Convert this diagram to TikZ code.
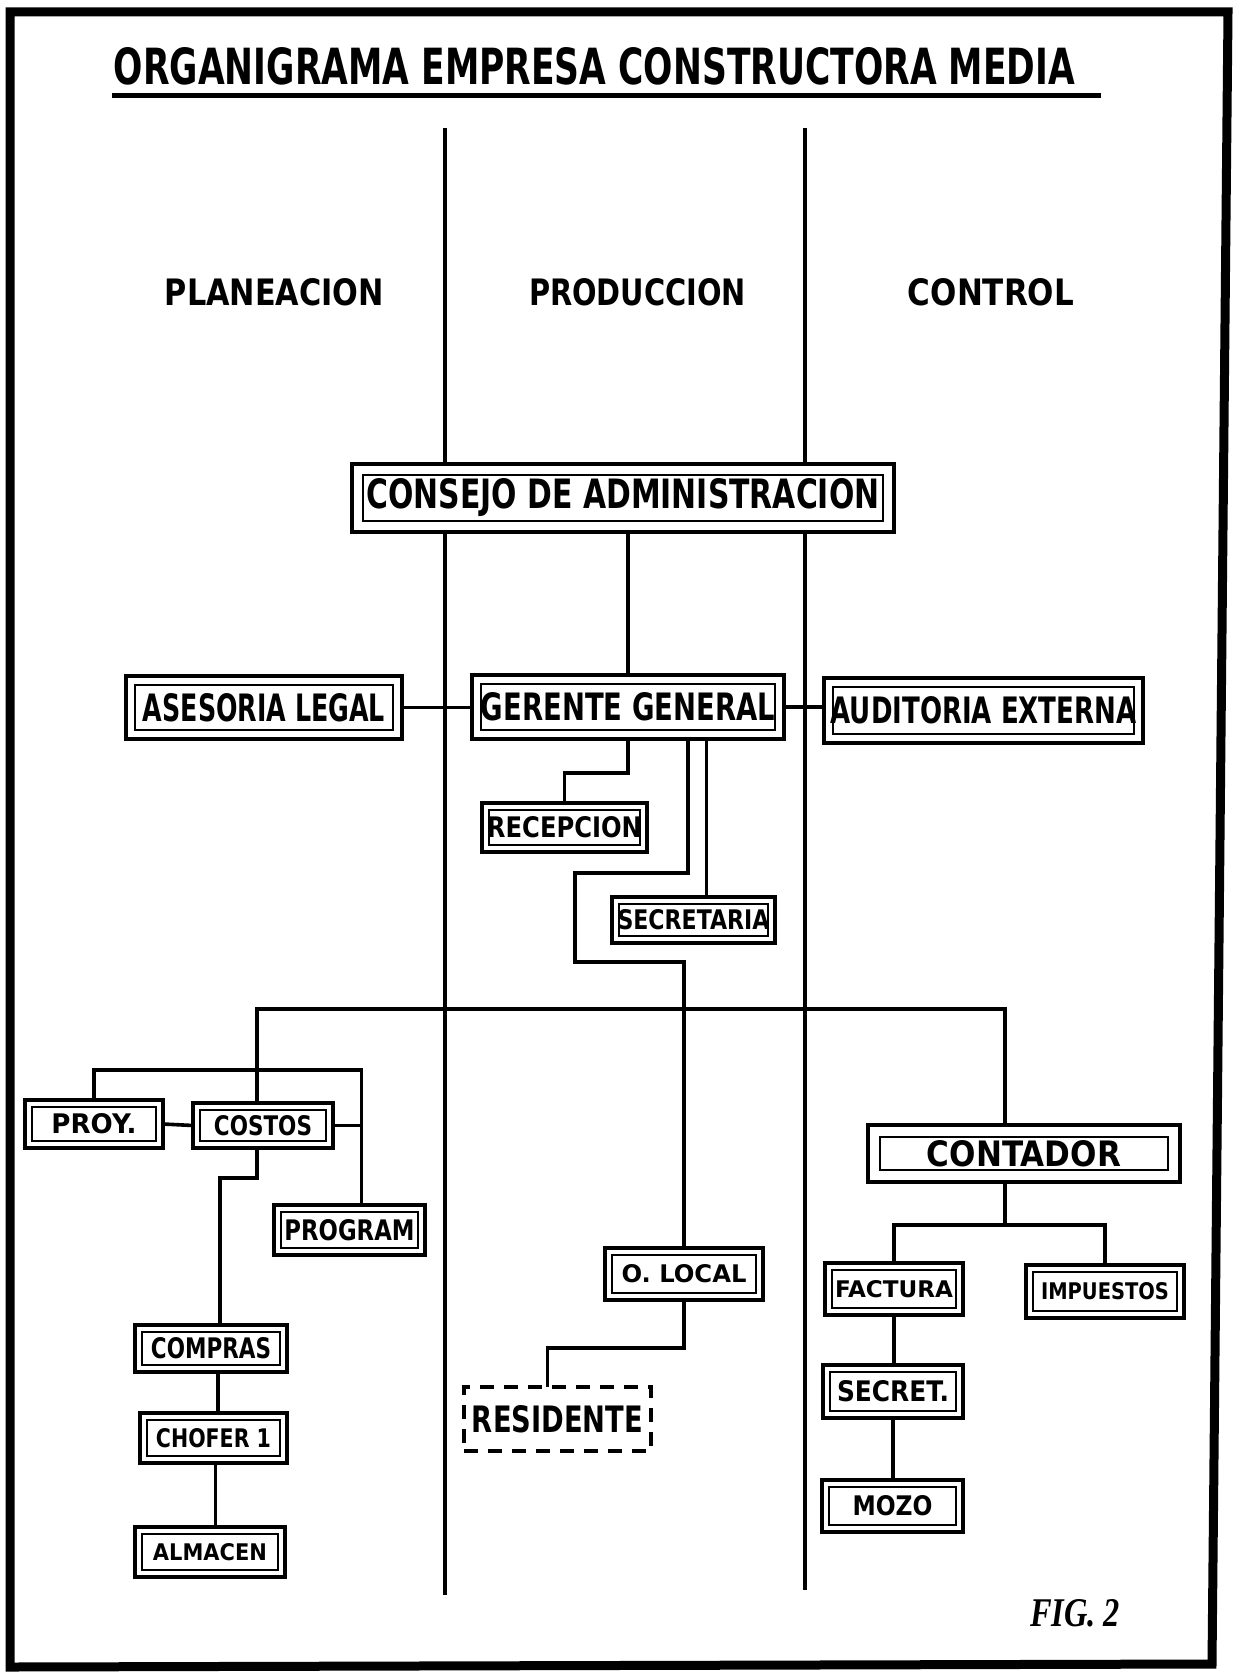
\documentclass[tikz,border=0pt]{standalone}
\usepackage{fontspec}
\setmainfont{DejaVu Sans}
\newfontfamily\figfont{Liberation Serif}
\usepackage{graphicx}
\tikzset{
  conn/.style={line width=3.6pt},
  lane/.style={line width=4.6pt},
  box/.style={draw, line width=4.6pt, fill=white, inner sep=0pt, outer sep=0pt},
  dbox/.style={draw, line width=3.6pt, dash pattern=on 14pt off 10pt, fill=white, inner sep=0pt, outer sep=0pt},
  innerframe/.style={line width=2.2pt},
  plain/.style={inner sep=0pt, outer sep=0pt}
}
% [style]{name}{x1}{y1}{x2}{y2}{text width}{text height}{text}
\newcommand\bx[9][box]{\node[#1,minimum width={#5pt-#3pt},minimum height={#6pt-#4pt}] (#2) at ({(#3+#5)/2},{(#4+#6)/2}) {\resizebox{#7pt}{#8pt}{\bfseries #9}};}
\newcommand\inr[2]{\draw[innerframe] ([shift={(#2,#2)}]#1.north west) rectangle ([shift={(-#2,-#2)}]#1.south east);}
\begin{document}
\begin{tikzpicture}[x=1pt,y=-1pt]
\useasboundingbox (0,0) rectangle (1234,1672);
\fill[white] (0,0) rectangle (1234,1672);
% frame
\draw[line width=9pt, line join=miter] (10,12) -- (1228,12) -- (1212,1664) -- (10,1667) -- cycle;
% title
\node[plain] (title) at (594.5,66.5) {\resizebox{961pt}{37pt}{\bfseries ORGANIGRAMA EMPRESA CONSTRUCTORA MEDIA}};
\draw[line width=5pt] (112,96) -- (1101,96);
% lanes
\draw[lane] (445,128) -- (445,1595);
\draw[lane] (805,128) -- (805,1590);
\node[plain] (plan) at (274.5,292.5) {\resizebox{219pt}{27pt}{\bfseries PLANEACION}};
\node[plain] (prod) at (637.5,292.5) {\resizebox{217pt}{27pt}{\bfseries PRODUCCION}};
\node[plain] (ctrl) at (991,292.5) {\resizebox{166pt}{27pt}{\bfseries CONTROL}};
% boxes
\bx{consejo}{352}{464}{894}{532}{513}{30}{CONSEJO DE ADMINISTRACION}
\bx{asesoria}{126}{676}{402}{739}{242}{28}{ASESORIA LEGAL}
\bx{gerente}{472}{675}{784}{739}{294}{28}{GERENTE GENERAL}
\bx{auditoria}{824}{678}{1143}{743}{306}{27}{AUDITORIA EXTERNA}
\bx{recepcion}{482}{803}{647}{852}{155}{21}{RECEPCION}
\bx{secretaria}{612}{897}{775}{943}{152}{20}{SECRETARIA}
\bx{proy}{25}{1100}{163}{1148}{85}{20}{PROY.}
\bx{costos}{193}{1103}{333}{1148}{98}{20}{COSTOS}
\bx{program}{274}{1205}{425}{1255}{130}{21}{PROGRAM}
\bx{compras}{135}{1325}{287}{1372}{120}{21}{COMPRAS}
\bx{chofer}{140}{1413}{287}{1463}{115}{19}{CHOFER 1}
\bx{almacen}{135}{1527}{285}{1577}{114}{17}{ALMACEN}
\bx{olocal}{605}{1248}{763}{1300}{125}{18}{O. LOCAL}
\bx[dbox]{residente}{464}{1387}{651}{1451}{171}{27}{RESIDENTE}
\bx{contador}{868}{1125}{1180}{1182}{194}{26}{CONTADOR}
\bx{factura}{825}{1263}{963}{1315}{118}{17}{FACTURA}
\bx{impuestos}{1026}{1265}{1184}{1318}{128}{17}{IMPUESTOS}
\bx{secret}{823}{1365}{963}{1418}{112}{21}{SECRET.}
\bx{mozo}{822}{1480}{963}{1532}{80}{20}{MOZO}
% inner frames
\inr{consejo}{11}
\inr{asesoria}{9}
\inr{gerente}{9}
\inr{auditoria}{9}
\inr{contador}{12}
\foreach \n in {recepcion,secretaria,proy,costos,program,compras,chofer,almacen,olocal,factura,impuestos,secret,mozo}{\inr{\n}{7}}
% connectors
\draw[conn] (consejo.south -| gerente.north) -- (gerente.north);
\draw[conn] (asesoria.east) -- (asesoria.east -| gerente.west);
\draw[conn] (gerente.east) -- (gerente.east -| auditoria.west);
\draw[conn] (gerente.south) -- ++(0,34) -| (recepcion.north);
\draw[conn] ([xshift=13pt]secretaria.north) -- ([xshift=13pt]secretaria.north |- gerente.south);
\draw[conn] ([xshift=60pt]gerente.south) -- ++(0,134) -- ++(-113,0) -- ++(0,89) -| (olocal.north);
\draw[conn] ([xshift=-6pt]costos.north) -- ++(0,-94) -| ([xshift=-19pt]contador.north);
\coordinate (progline) at ([xshift=12pt]program.north);
\draw[conn] (proy.north) -- ++(0,-30) -| (progline);
\draw[conn] (proy.east) -- (costos.west);
\draw[conn] (costos.east) -- (costos.east -| progline);
\draw[conn] ([xshift=-6pt]costos.south) -- ++(0,30) -| ([xshift=9pt]compras.north);
\draw[conn] ([xshift=7pt]compras.south) -- ([xshift=7pt]compras.south |- chofer.north);
\draw[conn] ([xshift=2pt]chofer.south) -- ([xshift=2pt]chofer.south |- almacen.north);
\draw[conn] (olocal.south) -- ++(0,48) -| ([xshift=-10pt]residente.north);
\draw[conn] ([xshift=-19pt]contador.south) -- ++(0,43) coordinate (cj);
\draw[conn] (factura.north) |- (cj) -| (impuestos.north);
\draw[conn] (factura.south) -- (factura.south |- secret.north);
\draw[conn] (secret.south) -- (secret.south |- mozo.north);
% figure label
\node[plain] (fig) at (1075,1613) {\resizebox{90pt}{27pt}{\figfont\bfseries\itshape FIG. 2}};
\end{tikzpicture}
\end{document}
